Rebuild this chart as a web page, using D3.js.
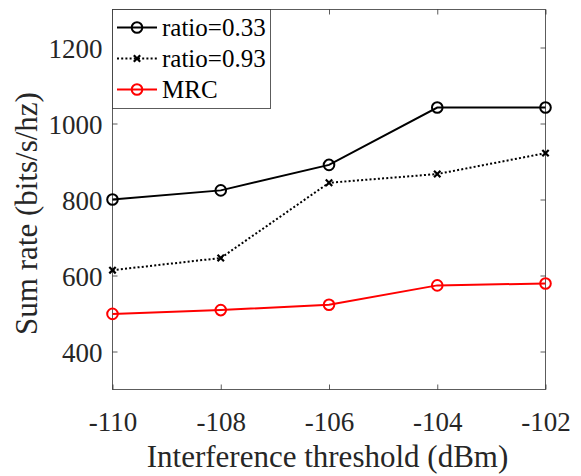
<!DOCTYPE html>
<html>
<head>
<meta charset="utf-8">
<script src="https://cdn.jsdelivr.net/npm/d3@7"></script>
<style>
  html, body { margin: 0; padding: 0; background: #fff; }
  svg { display: block; }
</style>
</head>
<body>
<svg id="chart" width="581" height="476"></svg>
<script>
// Interference threshold values (dBm)
const thresholds = [-110, -108, -106, -104, -102];
// Sum rate series (bits/s/hz)
const ratio033 = [800, 824, 891, 1042, 1042];
const ratio093 = [614, 646, 844, 867, 922];
const mrc = [499, 509, 523, 574, 579];

const xTicks = [-110, -108, -106, -104, -102];
const yTicks = [400, 600, 800, 1000, 1200];

const seriesNames = ["ratio=0.33", "ratio=0.93", "MRC"];

const serif = "\"Liberation Serif\", \"Times New Roman\", serif";
const margin = { left: 112.5, right: 35.5, top: 9.5, bottom: 86.5 };
const W = 581, H = 476;
const svg = d3.select("#chart");

const x = d3.scaleLinear().domain([-110, -102]).range([margin.left, W - margin.right]);
const y = d3.scaleLinear().domain([300, 1300]).range([H - margin.bottom, margin.top]);

const axisColor = "#262626";
const tickLen = 5;
const fmt = d => String(d);

// axes box
svg.append("rect")
  .attr("x", x.range()[0]).attr("y", y.range()[1])
  .attr("width", x.range()[1] - x.range()[0])
  .attr("height", y.range()[0] - y.range()[1])
  .attr("fill", "none").attr("stroke", axisColor).attr("stroke-width", 1).attr("stroke-opacity", 0.75);

// axes with inward ticks on all four sides
const xAxisB = d3.axisBottom(x).tickValues(xTicks).tickSizeInner(-tickLen).tickSizeOuter(0).tickFormat(fmt);
const xAxisT = d3.axisTop(x).tickValues(xTicks).tickSizeInner(-tickLen).tickSizeOuter(0).tickFormat("");
const yAxisL = d3.axisLeft(y).tickValues(yTicks).tickSizeInner(-tickLen).tickSizeOuter(0).tickPadding(10).tickFormat(fmt);
const yAxisR = d3.axisRight(y).tickValues(yTicks).tickSizeInner(-tickLen).tickSizeOuter(0).tickFormat("");

function styleAxis(g) {
  g.attr("font-family", serif).attr("font-size", 27);
  g.select(".domain").remove();
  g.selectAll(".tick line").attr("stroke", axisColor).attr("stroke-opacity", 0.75);
  g.selectAll(".tick text")
    .style("font-family", serif).style("font-size", "27px").style("fill", axisColor);
}

svg.append("g").attr("transform", `translate(0,${y.range()[0]})`).call(xAxisB).call(styleAxis)
  .selectAll(".tick text").attr("y", 41.5).attr("dy", "0");
svg.append("g").attr("transform", `translate(0,${y.range()[1]})`).call(xAxisT).call(styleAxis);
svg.append("g").attr("transform", `translate(${x.range()[0]},0)`).call(yAxisL).call(styleAxis)
  .selectAll(".tick text").attr("dy", "0.37em");
svg.append("g").attr("transform", `translate(${x.range()[1]},0)`).call(yAxisR).call(styleAxis);

// axis titles
svg.append("text")
  .attr("x", (x.range()[0] + x.range()[1]) / 2 - 1.5).attr("y", 467)
  .attr("text-anchor", "middle")
  .style("font-family", serif).style("font-size", "31px").style("fill", axisColor)
  .text("Interference threshold (dBm)");
svg.append("text")
  .attr("transform", `translate(37,213.5) rotate(-90)`)
  .attr("text-anchor", "middle")
  .style("font-family", serif).style("font-size", "31px").style("fill", axisColor)
  .text("Sum rate (bits/s/hz)");

const line = d3.line().x(d => x(d[0])).y(d => y(d[1]));

const series = [
  { name: seriesNames[0], values: ratio033, color: "#000000", dash: null, marker: "circle" },
  { name: seriesNames[1], values: ratio093, color: "#000000", dash: "2,2.2", marker: "cross" },
  { name: seriesNames[2], values: mrc, color: "#ff0000", dash: null, marker: "circle" }
];

function drawMarker(g, cx, cy, s) {
  if (s.marker === "circle") {
    g.append("circle").attr("cx", cx).attr("cy", cy).attr("r", 5.3)
      .attr("fill", "none").attr("stroke", s.color).attr("stroke-width", 2);
  } else {
    const r = 3.2;
    g.append("path")
      .attr("d", `M${cx - r},${cy - r}L${cx + r},${cy + r}M${cx - r},${cy + r}L${cx + r},${cy - r}`)
      .attr("stroke", s.color).attr("stroke-width", 2.2).attr("fill", "none");
  }
}

series.forEach(s => {
  const pts = thresholds.map((t, i) => [t, s.values[i]]);
  const g = svg.append("g");
  g.append("path").datum(pts).attr("d", line)
    .attr("fill", "none").attr("stroke", s.color).attr("stroke-width", 2)
    .attr("stroke-dasharray", s.dash);
  pts.forEach(p => drawMarker(g, x(p[0]), y(p[1]), s));
});

// legend
const lg = svg.append("g");
const lx0 = x.range()[0], ly0 = y.range()[1];
lg.append("rect").attr("x", lx0).attr("y", ly0).attr("width", 158).attr("height", 99)
  .attr("fill", "#fff").attr("stroke", axisColor).attr("stroke-width", 1).attr("stroke-opacity", 0.75);
const rows = [27.5, 58.5, 89.5];
series.forEach((s, i) => {
  const cy = rows[i];
  lg.append("line").attr("x1", 117).attr("x2", 157).attr("y1", cy).attr("y2", cy)
    .attr("stroke", s.color).attr("stroke-width", 2).attr("stroke-dasharray", s.dash);
  drawMarker(lg, 137, cy, s);
  lg.append("text").attr("x", 162).attr("y", cy).attr("dy", "0.33em")
    .style("font-family", serif).style("font-size", "25px").style("fill", "#000")
    .text(s.name);
});
</script>
</body>
</html>
